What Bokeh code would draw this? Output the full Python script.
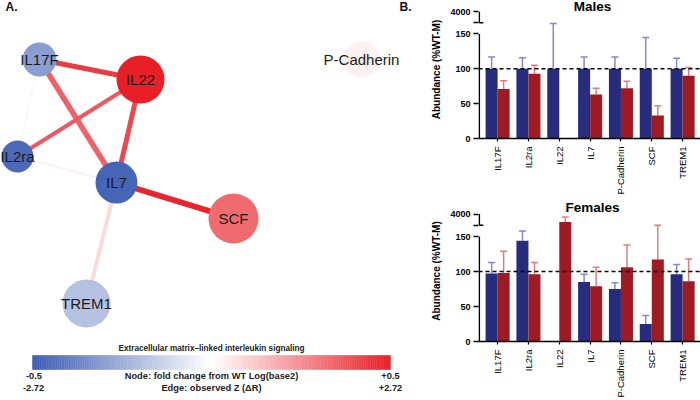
import math
import numpy as np
from bokeh.plotting import figure
from bokeh.models import ColumnDataSource, Range1d, FixedTicker, Span, Whisker, TeeHead
from bokeh.transform import linear_cmap
from bokeh.layouts import row, column
from bokeh.core.properties import value
from bokeh.embed import file_html
from bokeh.resources import INLINE

# ---------------- Panel A: network ----------------
node_names = ["IL17F", "IL22", "IL2ra", "IL7", "SCF", "TREM1", "P-Cadherin"]
node_fc = [-0.30, 0.50, -0.46, -0.475, 0.33, -0.19, 0.035]      # log2 fold change from WT
node_weight = [17, 24, 16, 21, 25, 24, 18]
layout_x = [39, 140, 17, 116, 233, 86, 361]
layout_y = [59, 79, 156, 182, 218, 303, 59]

edge_from = ["IL17F", "IL17F", "IL22", "IL22", "IL7", "IL7", "IL2ra", "IL17F"]
edge_to = ["IL22", "IL7", "IL2ra", "IL7", "SCF", "TREM1", "IL7", "IL2ra"]
edge_z = [2.38, 1.90, 2.00, 2.23, 2.64, 0.45, 0.19, -0.19]     # observed Z (dR)
edge_weight = [5, 5.5, 4, 5, 6, 4, 2, 1]

fc_limit = 0.5
z_limit = 2.72

# ---------------- Panel B: bars ----------------
categories = ["IL17F", "IL2ra", "IL22", "IL7", "P-Cadherin", "SCF", "TREM1"]
male_wt = [100, 100, 100, 100, 100, 100, 100]
male_wt_sem = [17, 16, 65, 17, 17, 45, 15]
male_ko = [71, 93, None, 63, 72, 33, 90]
male_ko_sem = [12, 12, None, 9, 10, 14, 12]
female_wt = [97, 144, None, 85, 75, 25, 96]
female_wt_sem = [16, 14, None, 11, 9, 12, 14]
female_ko = [98, 96, 1900, 79, 106, 117, 86]
female_ko_sem = [31, 17, 1350, 27, 32, 49, 32]
y_tick_values = [0, 50, 100, 150, 4000]

FONT = "Liberation Sans"
BLUE_END = (61, 93, 179)
RED_END = (232, 31, 39)


def hexc(c):
    return "#%02x%02x%02x" % tuple(int(round(v)) for v in c)


palette = []
for i in range(128):
    t = i / 127.0
    palette.append(hexc([BLUE_END[k] + (255 - BLUE_END[k]) * t for k in range(3)]))
for i in range(128):
    t = i / 127.0
    palette.append(hexc([255 + (RED_END[k] - 255) * t for k in range(3)]))

# ---------- network figure ----------
net = figure(width=420, height=400, x_range=Range1d(0, 420), y_range=Range1d(400, 0),
             output_backend="svg", toolbar_location=None, min_border=0,
             x_axis_location=None, y_axis_location=None, title=None)
net.grid.visible = False
net.outline_line_color = None
net.background_fill_color = "white"

idx = {n: i for i, n in enumerate(node_names)}
esrc = ColumnDataSource(dict(
    x0=[layout_x[idx[a]] for a in edge_from], y0=[layout_y[idx[a]] for a in edge_from],
    x1=[layout_x[idx[b]] for b in edge_to], y1=[layout_y[idx[b]] for b in edge_to],
    z=edge_z, w=edge_weight))
net.segment("x0", "y0", "x1", "y1", source=esrc,
            line_color=linear_cmap("z", palette, -z_limit, z_limit), line_width="w")

nsrc = ColumnDataSource(dict(x=layout_x, y=layout_y, r=node_weight, fc=node_fc, name=node_names))
net.circle("x", "y", radius="r", source=nsrc,
           fill_color=linear_cmap("fc", palette, -fc_limit, fc_limit), line_color=None)
net.text("x", "y", text="name", source=nsrc, text_align="center", text_baseline="middle",
         text_font=value(FONT), text_font_size="15px", text_color="#1a1a1a")

net.text(x=[5, 399], y=[6, 6], text=["A.", "B."], text_font=value(FONT), text_font_size="12px",
         text_font_style="bold", text_color="#111111", text_baseline="middle")

# colour bar
N = 200
edges = np.linspace(32, 390, N + 1)
cb = ColumnDataSource(dict(left=edges[:-1], right=edges[1:],
                           v=np.linspace(-fc_limit, fc_limit, N)))
net.quad(left="left", right="right", top=355, bottom=369, source=cb,
         fill_color=linear_cmap("v", palette, -fc_limit, fc_limit),
         line_color=linear_cmap("v", palette, -fc_limit, fc_limit), line_width=0.5)

cb_txt = dict(text_font=value(FONT), text_font_style="bold", text_color="#222222",
              text_align="center", text_baseline="middle")
net.text(x=[211], y=[348], text=["Extracellular matrix\u2013linked interleukin signaling"],
         text_font_size="8.2px", **cb_txt)
net.text(x=[33.5, 211, 390], y=[375.5, 375.5, 375.5],
         text=["-0.5", "Node: fold change from WT Log(base2)", "+0.5"],
         text_font_size="9.3px", **cb_txt)
net.text(x=[33, 211, 390], y=[387.5, 387.5, 387.5],
         text=["-2.72", "Edge: observed Z (\u0394R)", "+2.72"],
         text_font_size="9.3px", **cb_txt)

# ---------- bar panels ----------
LOW_MAX = 166.0
UP_LO, UP_HI = 1000.0, 4000.0
UP_SPAN = 16.0


def brk(v):
    if v <= LOW_MAX:
        return v
    return LOW_MAX + (v - UP_LO) / (UP_HI - UP_LO) * UP_SPAN


def bar_panel(title, wt, wt_sem, ko, ko_sem, bottom_border, ppu, title_mid_px):
    fh = 200 - bottom_border
    y_end = fh / ppu
    x0, x1 = -0.62, 6.58
    p = figure(width=280, height=200, x_range=Range1d(x0, x1), y_range=Range1d(0, y_end),
               output_backend="svg", toolbar_location=None, title=None,
               min_border_left=58, min_border_right=0, min_border_top=0,
               min_border_bottom=bottom_border)
    p.grid.visible = False
    p.outline_line_color = None

    bw = 0.39
    for vals, sems, off, col, ecol in ((wt, wt_sem, -bw / 2, "#282c7c", "#8489cf"),
                                       (ko, ko_sem, bw / 2, "#9e1b23", "#e07c80")):
        xs, tops, ups = [], [], []
        for i, (v, s) in enumerate(zip(vals, sems)):
            if v is None:
                continue
            xs.append(i + off)
            tops.append(brk(v))
            ups.append(brk(v + s))
        src = ColumnDataSource(dict(x=xs, top=tops, up=ups))
        p.vbar(x="x", top="top", bottom=0, width=bw, source=src, fill_color=col, line_color=None)
        p.add_layout(Whisker(base="x", upper="up", lower="top", source=src,
                             line_color=ecol, line_width=1.5, lower_head=None,
                             upper_head=TeeHead(size=7, line_color=ecol, line_width=1.5)))

    p.add_layout(Span(location=100, dimension="width", line_color="black",
                      line_dash="4 3", line_width=1.5))

    # broken y axis line
    tick_pos = [brk(v) for v in y_tick_values]
    xa = x0 + 0.025
    p.segment(x0=[xa, xa], y0=[0, LOW_MAX], x1=[xa, xa], y1=[tick_pos[3], tick_pos[-1]],
              line_color="black", line_width=1.6)
    p.segment(x0=[xa], y0=[LOW_MAX], x1=[xa + 0.13], y1=[LOW_MAX], line_color="black", line_width=1.5)

    ya = p.yaxis[0]
    ya.ticker = FixedTicker(ticks=tick_pos + [LOW_MAX])
    ya.major_label_overrides = {tp: str(v) for tp, v in zip(tick_pos, y_tick_values)}
    ya.major_label_overrides[LOW_MAX] = ""
    ya.axis_line_color = None
    ya.major_tick_out = 5
    ya.major_tick_in = 0
    ya.major_tick_line_width = 1.5
    ya.minor_tick_line_color = None
    ya.major_label_standoff = 3
    ya.major_label_text_font = FONT
    ya.major_label_text_font_size = "9px"
    ya.major_label_text_font_style = "bold"
    ya.major_label_text_color = "black"
    ya.axis_label = "Abundance (%WT-M)"
    ya.axis_label_text_font = FONT
    ya.axis_label_text_font_size = "10px"
    ya.axis_label_text_font_style = "bold"
    ya.axis_label_text_color = "black"
    ya.axis_label_standoff = 5

    xax = p.xaxis[0]
    xax.ticker = FixedTicker(ticks=list(range(len(categories))))
    xax.major_label_overrides = {i: c for i, c in enumerate(categories)}
    xax.major_label_orientation = math.pi / 2
    xax.axis_line_width = 1.6
    xax.axis_line_color = "black"
    xax.major_tick_out = 3
    xax.major_tick_in = 0
    xax.major_tick_line_width = 1.2
    xax.minor_tick_line_color = None
    xax.major_label_standoff = 5
    xax.major_label_text_font = FONT
    xax.major_label_text_font_size = "9.5px"
    xax.major_label_text_color = "black"

    p.text(x=[3.08], y=[(fh - title_mid_px) / ppu], text=[title], text_font=value(FONT),
           text_font_size="13.5px", text_font_style="bold", text_align="center",
           text_baseline="middle", text_color="black")
    return p


males = bar_panel("Males", male_wt, male_wt_sem, male_ko, male_ko_sem, 62, 0.697, 6.2)
females = bar_panel("Females", female_wt, female_wt_sem, female_ko, female_ko_sem, 59, 0.70, 7.0)

layout = row(net, column(males, females))
open("out.html", "w").write(file_html(layout, INLINE))
